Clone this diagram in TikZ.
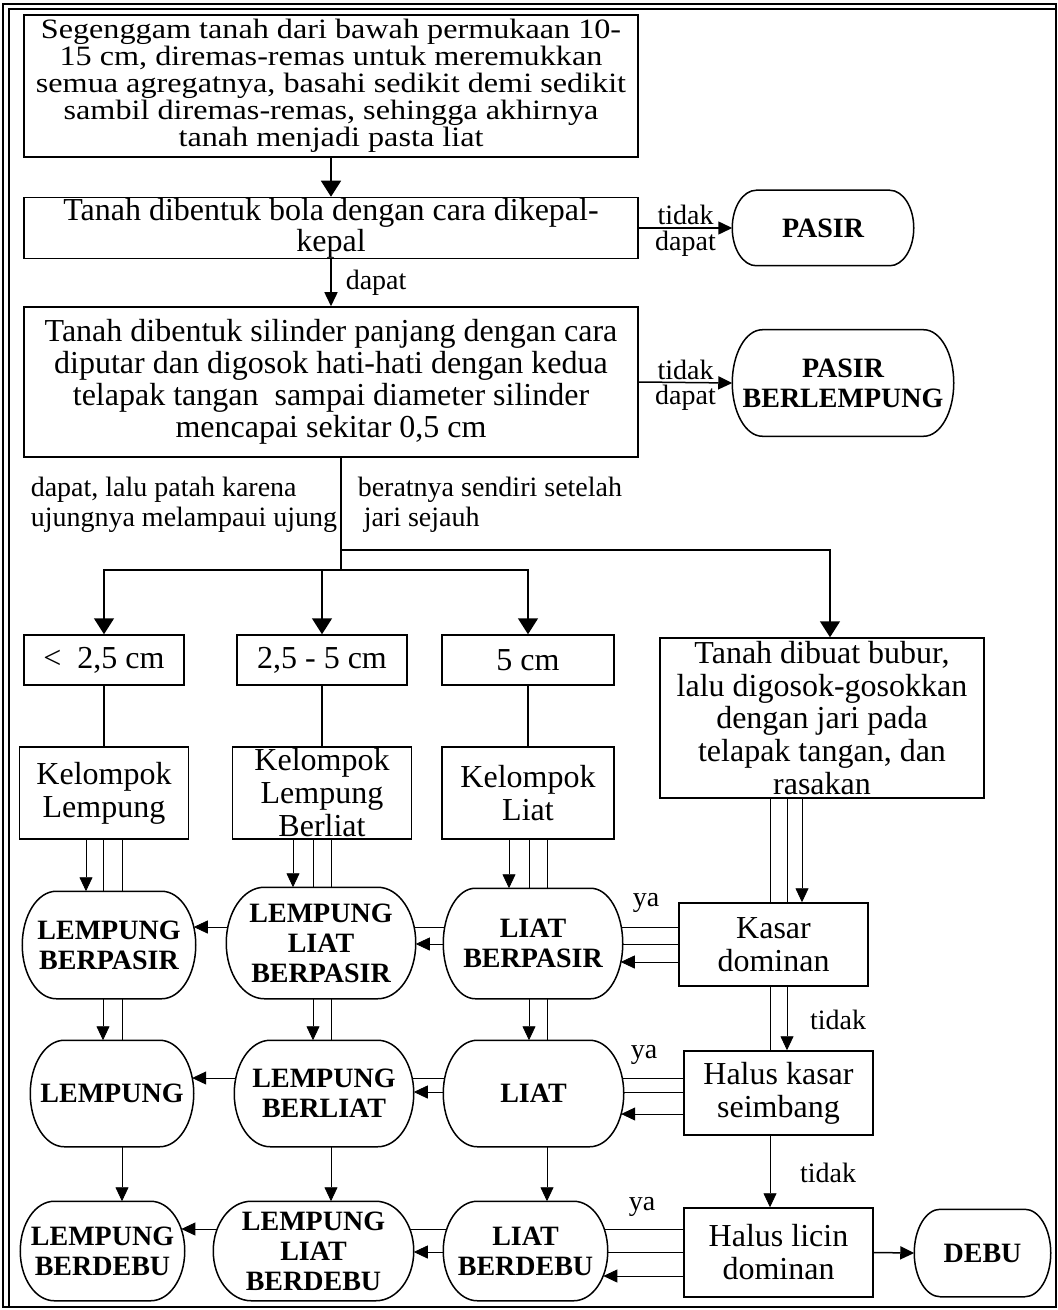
\documentclass[tikz,border=0pt]{standalone}
\usepackage{fontspec}
\setmainfont{Liberation Serif}
\newfontfamily\lebar[FakeStretch=1.15]{Liberation Serif}
\usepackage{tikz}
\usetikzlibrary{shapes,arrows.meta,positioning,calc,backgrounds}
\pgfdeclarelayer{garis}
\pgfsetlayers{garis,background,main}
\newcommand{\rapat}{\lineskiplimit=-20pt\relax}
\tikzstyle{kotak}=[rectangle, draw, fill=white, line width=0.75pt, align=center, inner sep=1pt, font=\fontsize{16}{16.5}\selectfont]
\tikzstyle{lonjong}=[rectangle, align=center, inner sep=1pt, font=\fontsize{14}{15}\selectfont\bfseries]
\tikzstyle{ket}=[inner sep=1pt, font=\fontsize{14}{15}\selectfont]
\tikzstyle{arr}=[-{Triangle[length=7pt,width=6.5pt]}]
\tikzstyle{bigarr}=[-{Triangle[length=8pt,width=10pt]}]
% flat top and bottom, elliptic ends
\newcommand{\gambarOval}[2]{%
	\draw[fill=white, line width=0.75pt] let \p1=($(#1.north)-(#1.center)$) in
		([xshift=#2]#1.north west) -- ([xshift=-#2]#1.north east)
		arc[start angle=90, end angle=-90, x radius=#2, y radius=\y1]
		-- ([xshift=#2]#1.south west)
		arc[start angle=270, end angle=90, x radius=#2, y radius=\y1] -- cycle;}

\begin{document}
\begin{tikzpicture}[x=0.5pt, y=-0.5pt, line width=0.75pt]
	\useasboundingbox (0,0) rectangle (1058,1310);

	%%% frame
	\draw[line width=0.6pt] (3,4) rectangle (1056,1307);
	\draw (1056,9) -- (9,9) -- (9,1307);

	%%% top boxes
	\node[kotak, minimum width=307pt, minimum height=71pt, font={\lebar\fontsize{14}{13.5}\selectfont\rapat}] (awal) at (331,86) {Segenggam tanah dari bawah permukaan 10-\\15 cm, diremas-remas untuk meremukkan\\semua agregatnya, basahi sedikit demi sedikit\\sambil diremas-remas, sehingga akhirnya\\tanah menjadi pasta liat};
	\node[kotak, minimum width=307pt, minimum height=30.5pt, inner ysep=0pt, font={\fontsize{16}{15.5}\selectfont\rapat}] (bola) at (331,228) {Tanah dibentuk bola dengan cara dikepal-\\kepal};
	\node[kotak, minimum width=307pt, minimum height=75pt, inner ysep=0pt, font=\fontsize{16}{16}\selectfont] (silinder) at (331,382) {Tanah dibentuk silinder panjang dengan cara\\diputar dan digosok hati-hati dengan kedua\\telapak tangan \ sampai diameter silinder\\mencapai sekitar 0,5 cm};

	\node[lonjong, minimum width=90pt, minimum height=37pt] (pasir) at (823,228) {PASIR};
	\node[lonjong, minimum width=110pt, minimum height=52.5pt] (pasirLemp) at (843,383) {PASIR\\BERLEMPUNG};

	\draw[bigarr] (awal.south) -- (bola.north);
	\draw[arr] (bola.east) -- node[ket, above] (tidak1) {tidak} node[ket, below] (dapat1) {dapat} (pasir.west);
	\draw[arr] (bola.south) -- node[ket, right=6pt] (dapat2) {dapat} (silinder.north);
	\draw[arr] (silinder.east) -- node[ket, above] (tidak2) {tidak} node[ket, below] (dapat3) {dapat} (pasirLemp.west);

	%%% cylinder length
	\node[ket, anchor=west, align=left] (patah) at (28,505) {dapat, lalu patah karena\\ujungnya melampaui ujung};
	\node[ket, anchor=west, align=left] (berat) at (355,505) {beratnya sendiri setelah\\\hspace{3pt}jari sejauh};

	\node[kotak, minimum width=80pt, minimum height=25pt] (kecil) at (104,660) {<~ 2,5 cm};
	\node[kotak, minimum width=85pt, minimum height=25pt] (sedang) at (322,660) {2,5 - 5 cm};
	\node[kotak, minimum width=86pt, minimum height=25pt] (besar) at (528,660) {5 cm};
	\node[kotak, minimum width=162pt, minimum height=80pt, inner ysep=0pt, font=\fontsize{16}{16.3}\selectfont] (bubur) at (822,718) {Tanah dibuat bubur,\\lalu digosok-gosokkan\\dengan jari pada\\telapak tangan, dan\\rasakan};

	\coordinate (cabang) at (341,550);
	\coordinate (pisah) at (341,570);
	\draw ([xshift=5pt]silinder.south) -- (pisah);
	\draw[bigarr] (cabang) -| ([xshift=4pt]bubur.north);
	\draw[bigarr] (pisah) -| (kecil.north);
	\draw[bigarr] (pisah) -| (besar.north);
	\draw[bigarr] (pisah -| sedang.north) -- (sedang.north);

	%%% groups
	\node[kotak, minimum width=84.5pt, minimum height=46pt] (kLempung) at (104,793) {Kelompok\\Lempung};
	\node[kotak, minimum width=89.5pt, minimum height=46pt, inner ysep=0pt, font={\fontsize{16}{16.5}\selectfont\rapat}] (kBerliat) at (322,793) {Kelompok\\Lempung\\Berliat};
	\node[kotak, minimum width=86pt, minimum height=46pt] (kLiat) at (528,793) {Kelompok\\Liat};

	\draw (kecil) -- (kLempung);
	\draw (sedang) -- (kBerliat);
	\draw (besar) -- (kLiat);

	%%% feel test
	\node[kotak, minimum width=94.5pt, minimum height=41.5pt] (kasar) at (773.5,944.5) {Kasar\\dominan};
	\node[kotak, minimum width=94.5pt, minimum height=42pt] (seimbang) at (778.5,1093) {Halus kasar\\seimbang};
	\node[kotak, minimum width=94.5pt, minimum height=44.5pt] (licin) at (778.5,1252.5) {Halus licin\\dominan};
	\node[lonjong, minimum width=67.5pt, minimum height=43pt] (debu) at (982.5,1253) {DEBU};

	\node[ket] (ya1) at (646,903) {ya};
	\node[ket] (ya2) at (644,1055) {ya};
	\node[ket] (ya3) at (642,1207) {ya};
	\node[ket] (tidak3) at (838,1020) {tidak};
	\node[ket] (tidak4) at (828,1173) {tidak};

	\draw[arr] (licin.east) -- (debu.west);

	%%% texture classes
	\node[lonjong, minimum width=86pt, minimum height=53pt] (lBerpasir) at (109,945) {LEMPUNG\\BERPASIR};
	\node[lonjong, minimum width=94pt, minimum height=55pt] (llBerpasir) at (321,943) {LEMPUNG\\LIAT\\BERPASIR};
	\node[lonjong, minimum width=89pt, minimum height=54.5pt] (liatBerpasir) at (533,943.5) {LIAT\\BERPASIR};

	\node[lonjong, minimum width=81pt, minimum height=52.5pt] (lempung) at (112,1093.5) {LEMPUNG};
	\node[lonjong, minimum width=89pt, minimum height=52.5pt] (lBerliat) at (324,1093.5) {LEMPUNG\\BERLIAT};
	\node[lonjong, minimum width=89.5pt, minimum height=52.5pt] (liat) at (533.5,1093.5) {LIAT};

	\node[lonjong, minimum width=81.5pt, minimum height=49pt] (lBerdebu) at (102.5,1251) {LEMPUNG\\BERDEBU};
	\node[lonjong, minimum width=99.5pt, minimum height=49pt] (llBerdebu) at (313.5,1251) {LEMPUNG\\LIAT\\BERDEBU};
	\node[lonjong, minimum width=81.5pt, minimum height=49pt] (liatBerdebu) at (525.5,1251) {LIAT\\BERDEBU};

	% outlines under the texts
	\begin{pgfonlayer}{background}
	\gambarOval{pasir}{12pt}
	\gambarOval{pasirLemp}{15pt}
	\gambarOval{debu}{13pt}
	\gambarOval{lBerpasir}{17pt}
	\gambarOval{llBerpasir}{19pt}
	\gambarOval{liatBerpasir}{16pt}
	\gambarOval{lempung}{17pt}
	\gambarOval{lBerliat}{18pt}
	\gambarOval{liat}{17pt}
	\gambarOval{lBerdebu}{17pt}
	\gambarOval{llBerdebu}{19pt}
	\gambarOval{liatBerdebu}{17pt}
	\end{pgfonlayer}

	% lines run behind the shapes
	\begin{pgfonlayer}{garis}
	\draw[arr] (86,0 |- kLempung.south) -- (86,0 |- lBerpasir.north);
	\draw[arr] (103,0 |- kLempung.south) -- (103,0 |- lempung.north);
	\draw[arr] (122,0 |- kLempung.south) -- (122,0 |- lBerdebu.north);

	\draw[arr] (293,0 |- kBerliat.south) -- (293,0 |- llBerpasir.north);
	\draw[arr] (313,0 |- kBerliat.south) -- (313,0 |- lBerliat.north);
	\draw[arr] (331,0 |- kBerliat.south) -- (331,0 |- llBerdebu.north);

	\draw[arr] (509,0 |- kLiat.south) -- (509,0 |- liatBerpasir.north);
	\draw[arr] (529,0 |- kLiat.south) -- (529,0 |- liat.north);
	\draw[arr] (547,0 |- kLiat.south) -- (547,0 |- liatBerdebu.north);

	\draw[arr] (802,0 |- bubur.south) -- (802,0 |- kasar.north);
	\draw[arr] (787,0 |- bubur.south) -- (787,0 |- seimbang.north);
	\draw[arr] (770,0 |- bubur.south) -- (770,0 |- licin.north);

	\draw[arr, shorten >=-1pt] (kasar.west |- 0,927) -- (lBerpasir.east |- 0,927);
	\draw[arr] (kasar.west |- 0,944) -- (llBerpasir.east |- 0,944);
	\draw[arr, shorten >=-1pt] (kasar.west |- 0,962) -- (liatBerpasir.east |- 0,962);

	\draw[arr, shorten >=-0.8pt] (seimbang.west |- 0,1078) -- (lempung.east |- 0,1078);
	\draw[arr] (seimbang.west |- 0,1092) -- (lBerliat.east |- 0,1092);
	\draw[arr, shorten >=-1.3pt] (seimbang.west |- 0,1114) -- (liat.east |- 0,1114);

	\draw[arr, shorten >=-1.7pt] (licin.west |- 0,1229) -- (lBerdebu.east |- 0,1229);
	\draw[arr] (licin.west |- 0,1252) -- (llBerdebu.east |- 0,1252);
	\draw[arr, shorten >=-2.2pt] (licin.west |- 0,1276) -- (liatBerdebu.east |- 0,1276);
	\end{pgfonlayer}
\end{tikzpicture}
\end{document}
